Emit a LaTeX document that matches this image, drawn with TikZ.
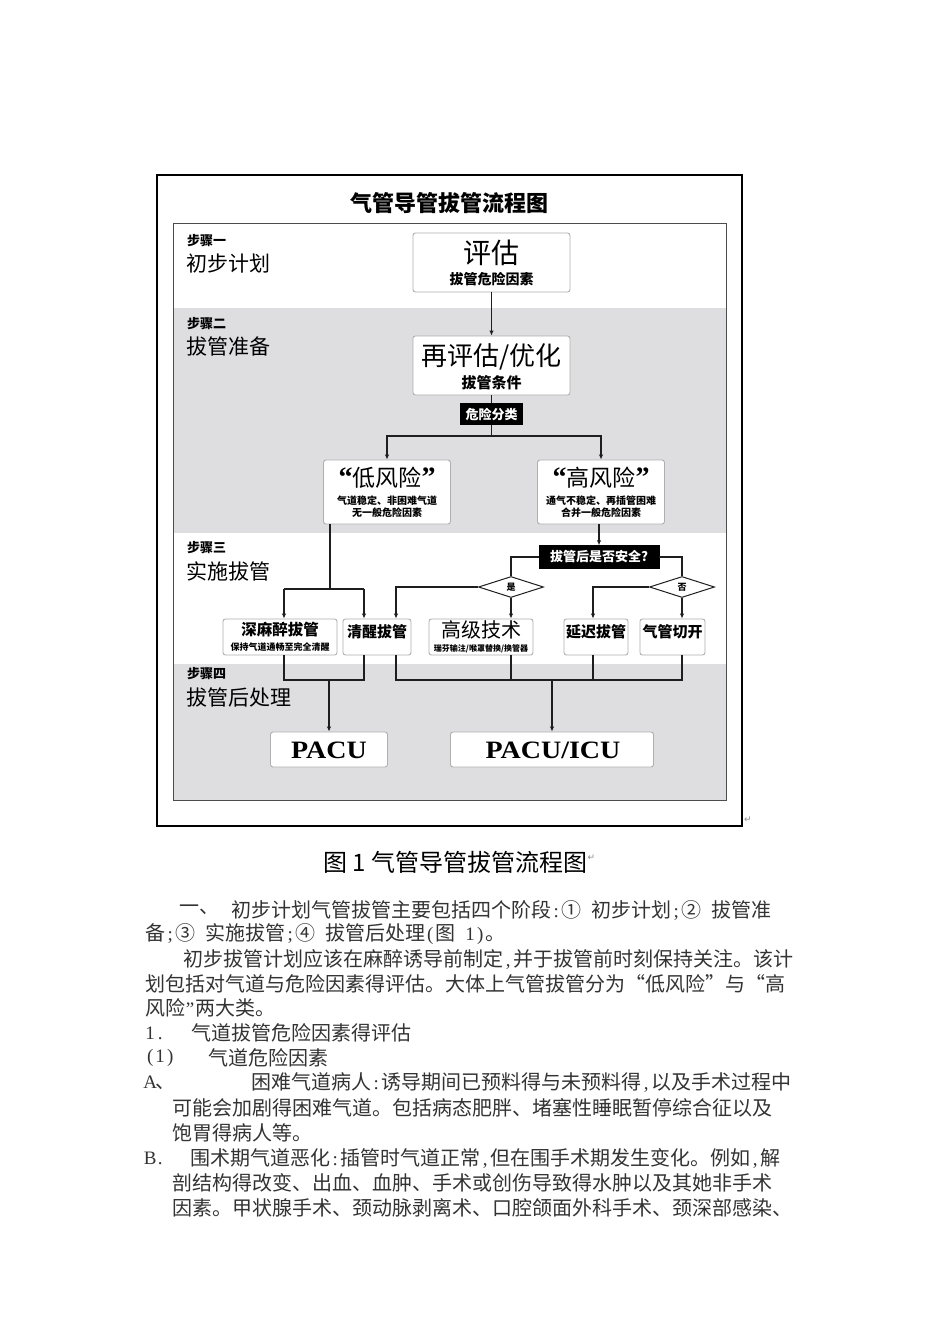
\documentclass[tikz,border=0pt]{standalone}
\usepackage{fontspec}
\setmainfont{Noto Sans CJK SC}
\newfontfamily\cjk{Noto Sans CJK SC}
\newfontfamily\cjkq{Noto Sans CJK SC}[CharacterWidth=Full]
\newfontfamily\pacufont{Liberation Serif}[FakeStretch=1.12]
\newfontfamily\qfont{Liberation Serif}
\newfontfamily\symfont{DejaVu Sans}
\usetikzlibrary{arrows.meta,shapes.geometric}
\definecolor{panelgray}{RGB}{222,221,224}
\definecolor{boxline}{RGB}{175,175,175}
\definecolor{lineclr}{RGB}{30,30,30}
\newcommand{\myfs}[1]{\fontsize{#1}{#1}\selectfont}
\newcommand{\hw}[1]{\makebox[10pt]{\qfont\fontsize{19}{19}\selectfont #1}}
\newcommand{\fq}[1]{\makebox[20pt]{#1}}
\newcommand{\bq}[1]{{\qfont\bfseries\fontsize{28}{28}\selectfont #1}}
\begin{document}
\begin{tikzpicture}[x=1pt,y=-1pt,
  box/.style={draw=boxline, fill=white, rounded corners=2.5pt, line width=0.9pt, inner sep=0pt},
  blackbox/.style={draw=black, fill=black, inner sep=0pt},
  conn/.style={draw=lineclr, line width=1.4pt},
  arr/.style={conn, -{Latex[length=5pt,width=4.5pt]}},
  txt/.style={inner sep=0pt, font=\cjk},
  wtxt/.style={inner sep=0pt, font=\cjk, text=white},
  dia/.style={draw=lineclr, line width=1pt, fill=white, shape=diamond, aspect=3, inner sep=0pt},
  steptxt/.style={inner sep=0pt, anchor=west, font=\cjk},
  body/.style={inner sep=0pt, anchor=west, font=\cjk\myfs{20}, text=black!80}
]
\useasboundingbox (0,0) rectangle (950,1344);
\fill[white] (0,0) rectangle (950,1344);

% frame and panels
\fill[white] (173,223) rectangle (726,308);
\fill[panelgray] (173,308) rectangle (726,533);
\fill[white] (173,533) rectangle (726,664);
\fill[panelgray] (173,664) rectangle (726,800);
\draw[draw=black!70, line width=1pt] (173,223) rectangle (726,800);
\draw[line width=2.6pt] (157,175) rectangle (742,826);

\node[txt] (title) at (449,203) {\myfs{22}\bfseries 气管导管拔管流程图};

% step labels
\node[steptxt] (s1a) at (187,241) {\myfs{13}\bfseries 步骤一};
\node[steptxt] (s1b) at (186,264) {\myfs{21}初步计划};
\node[steptxt] (s2a) at (187,324) {\myfs{13}\bfseries 步骤二};
\node[steptxt] (s2b) at (186,346) {\myfs{21}拔管准备};
\node[steptxt] (s3a) at (187,548) {\myfs{13}\bfseries 步骤三};
\node[steptxt] (s3b) at (186,571) {\myfs{21}实施拔管};
\node[steptxt] (s4a) at (187,674) {\myfs{13}\bfseries 步骤四};
\node[steptxt] (s4b) at (186,697) {\myfs{21}拔管后处理};

% boxes
\node[box, minimum width=157, minimum height=59] (pg) at (491.5,262.5) {};
\node[txt] (pgT) at (491.5,253) {\myfs{28}评估};
\node[txt] (pgS) at (491.5,279) {\myfs{14}\bfseries 拔管危险因素};

\node[box, minimum width=157, minimum height=59] (re) at (491.5,365.5) {};
\node[txt] (reT) at (491.5,357) {\myfs{26}再评估/优化};
\node[txt] (reS) at (491.5,383) {\myfs{15}\bfseries 拔管条件};

\node[blackbox, minimum width=62, minimum height=21] (risk) at (491.5,414) {};
\node[wtxt] (riskT) at (491.5,414) {\myfs{13}\bfseries 危险分类};

\node[box, minimum width=127, minimum height=64] (low) at (387,492) {};
\node[txt] (lowT) at (387,478) {\bq{“}\myfs{23}低风险\bq{”}};
\node[txt] (lowS1) at (387,501) {\myfs{10}\bfseries 气道稳定、非困难气道};
\node[txt] (lowS2) at (387,513) {\myfs{10}\bfseries 无一般危险因素};

\node[box, minimum width=127, minimum height=64] (high) at (601,492) {};
\node[txt] (highT) at (601,478) {\bq{“}\myfs{23}高风险\bq{”}};
\node[txt] (highS1) at (601,501) {\myfs{10}\bfseries 通气不稳定、再插管困难};
\node[txt] (highS2) at (601,513) {\myfs{10}\bfseries 合并一般危险因素};

\node[blackbox, minimum width=120, minimum height=23] (safe) at (599,557) {};
\node[wtxt] (safeT) at (599,557) {\myfs{13}\bfseries 拔管后是否安全?};

\node[dia, minimum width=65, minimum height=21] (yes) at (511,587) {\myfs{9}\bfseries 是};
\node[dia, minimum width=65, minimum height=21] (no) at (682,587) {\myfs{9}\bfseries 否};

\node[box, minimum width=114, minimum height=36] (deep) at (280,637) {};
\node[txt] (deepT) at (280,630) {\myfs{15.5}\bfseries 深麻醉拔管};
\node[txt] (deepS) at (280,647) {\myfs{9}\bfseries 保持气道通畅至完全清醒};

\node[box, minimum width=68, minimum height=36] (awake) at (377,637) {};
\node[txt] (awakeT) at (377,632) {\myfs{15}\bfseries 清醒拔管};

\node[box, minimum width=104, minimum height=36] (adv) at (481,637) {};
\node[txt] (advT) at (481,630) {\myfs{20}高级技术};
\node[txt] (advS) at (481,649) {\myfs{8}\bfseries 瑞芬输注/喉罩替换/换管器};

\node[box, minimum width=64, minimum height=36] (delay) at (596,637) {};
\node[txt] (delayT) at (596,632) {\myfs{15}\bfseries 延迟拔管};

\node[box, minimum width=65, minimum height=36] (trach) at (672.5,637) {};
\node[txt] (trachT) at (672.5,632) {\myfs{15}\bfseries 气管切开};

\node[box, minimum width=117, minimum height=35] (pacu) at (329,749.5) {};
\node[inner sep=0pt, font=\pacufont] (pacuT) at (329,750) {\myfs{25}\bfseries PACU};
\node[box, minimum width=203, minimum height=35] (icu) at (552,749.5) {};
\node[inner sep=0pt, font=\pacufont] (icuT) at (553,750) {\myfs{25}\bfseries PACU/ICU};

% junction coordinates
\coordinate (split) at (491.5,436);
\coordinate (j1) at (330,589);
\coordinate (xDeep) at (284,589);
\coordinate (xAwL) at (364,589);
\coordinate (xAwR) at (396,587);
\coordinate (xDelay) at (593,587);
\coordinate (bot) at (0,680);

% connectors
\draw[arr] (pg.south) -- (re.north);
\draw[conn] (re.south) -- (risk.north);
\draw[conn] (risk.south) -- (split);
\draw[arr] (split) -| (low.north);
\draw[arr] (split) -| (high.north);

\draw[conn] (low.south -| j1) -- (j1);
\draw[conn] (xDeep) -- (xAwL);
\draw[arr] (xDeep) -- (xDeep |- deep.north);
\draw[arr] (xAwL) -- (xAwL |- awake.north);

\draw[arr] (high.south -| safe.north) -- (safe.north);
\draw[conn] (safe.west) -| (yes.north);
\draw[conn] (safe.east) -| (no.north);
\draw[arr] (yes.west) -| (xAwR |- awake.north);
\draw[arr] (yes.south) -- (yes.south |- adv.north);
\draw[arr] (no.west) -| (xDelay |- delay.north);
\draw[arr] (no.south) -- (no.south |- trach.north);

\draw[conn] (xDeep |- deep.south) -- (xDeep |- bot) -- (xAwL |- bot) -- (xAwL |- awake.south);
\draw[arr] (pacu.north |- bot) -- (pacu.north);
\draw[conn] (xAwR |- awake.south) -- (xAwR |- bot) -- (no.south |- bot) -- (no.south |- trach.south);
\draw[conn] (yes.south |- adv.south) -- (yes.south |- bot);
\draw[conn] (xDelay |- delay.south) -- (xDelay |- bot);
\draw[arr] (icu.north |- bot) -- (icu.north);

% paragraph marks
\node[inner sep=0pt, font=\symfont, text=black!45] (pm1) at (748,820) {\myfs{9}↵};

% caption
\node[txt, anchor=west] (cap) at (323,862) {\myfs{24}图 1 气管导管拔管流程图};
\node[inner sep=0pt, font=\symfont, text=black!45, anchor=west] (pm2) at ([yshift=4pt]cap.east) {\myfs{9}↵};

% body text
\node[body] (l1a) at (179,910) {一、};
\node[body] (l1b) at (231,910) {初步计划气管拔管主要包括四个阶段\hw{:}①\hw{ }初步计划\hw{;}②\hw{ }拔管准};
\node[body] (l2) at (145,934) {备\hw{;}③\hw{ }实施拔管\hw{;}④\hw{ }拔管后处理\hw{(}图\hw{ }\hw{1}\hw{)}。};
\node[body] (l3) at (183,959) {初步拔管计划应该在麻醉诱导前制定\hw{,}并于拔管前时刻保持关注。该计};
\node[body] (l4) at (145,984) {划包括对气道与危险因素得评估。大体上气管拔管分为\fq{“}低风险\fq{”}与\fq{“}高};
\node[body] (l5) at (145,1008) {风险\hw{”}两大类。};
\node[body] (l6a) at (145,1033) {\hw{1}\hw{.}};
\node[body] (l6b) at (191,1033) {气道拔管危险因素得评估};
\node[body] (l7a) at (145,1058) {\hw{(}\hw{1}\hw{)}};
\node[body] (l7b) at (208,1058) {气道危险因素};
\node[body] (l8a) at (145,1083) {\hw{A}、};
\node[body] (l8b) at (251,1083) {困难气道病人\hw{:}诱导期间已预料得与未预料得\hw{,}以及手术过程中};
\node[body] (l9) at (172,1108) {可能会加剧得困难气道。包括病态肥胖、堵塞性睡眠暂停综合征以及};
\node[body] (l10) at (172,1133) {饱胃得病人等。};
\node[body] (l11a) at (145,1158) {\hw{B}\hw{.}};
\node[body] (l11b) at (190,1158) {围术期气道恶化\hw{:}插管时气道正常\hw{,}但在围手术期发生变化。例如\hw{,}解};
\node[body] (l12) at (172,1183) {剖结构得改变、出血、血肿、手术或创伤导致得水肿以及其她非手术};
\node[body] (l13) at (172,1208) {因素。甲状腺手术、颈动脉剥离术、口腔颌面外科手术、颈深部感染、};
\end{tikzpicture}
\end{document}
